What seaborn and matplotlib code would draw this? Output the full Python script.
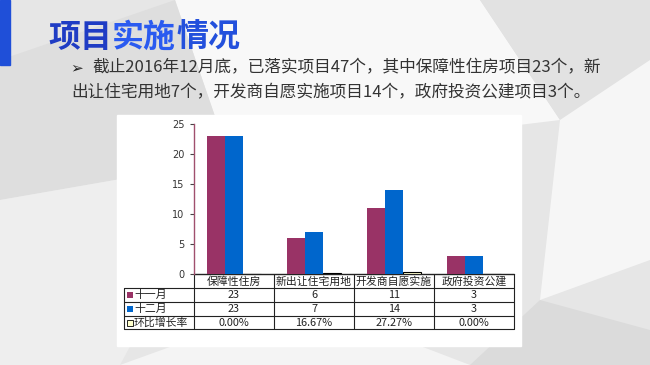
import pandas as pd
import matplotlib.pyplot as plt
import matplotlib.transforms as mtransforms
from matplotlib.patches import Polygon, Rectangle
import seaborn as sns

sns.set_style(style='white')
plt.rcParams['font.family'] = ['Noto Sans CJK SC', 'DejaVu Sans']

# chart data
categories = ['保障性住房', '新出让住宅用地', '开发商自愿实施', '政府投资公建']
series = ['十一月', '十二月', '环比增长率']
nov = [23, 6, 11, 3]
dec = [23, 7, 14, 3]
growth = [0.0, 0.1667, 0.2727, 0.0]
yticks = [0, 5, 10, 15, 20, 25]

colors = ['#993366', '#0066CC', '#FFFFCC']

title_parts = [('项目', '#1f3cc4'), ('实施', '#2a5af0'), ('情况', '#2350dc')]
line1 = '截止2016年12月底，已落实项目47个，其中保障性住房项目23个，新'
line2 = '出让住宅用地7个，开发商自愿实施项目14个，政府投资公建项目3个。'

df = pd.DataFrame({
    'category': categories * 3,
    'series': [s for s in series for _ in categories],
    'value': nov + dec + growth,
})

W, H = 650, 365
fig = plt.figure(figsize=(6.5, 3.65), dpi=100)

# slide background in pixel coordinates
bg = fig.add_axes([0, 0, 1, 1], zorder=0)
bg.set_xlim(0, W)
bg.set_ylim(H, 0)
bg.axis('off')
bg.add_patch(Rectangle((0, 0), W, H, color='#e6e6e6'))
shapes = [
    ([(175, 0), (480, 0), (560, 120), (230, 160)], '#f8f8f8'),
    ([(0, 60), (175, 0), (230, 160), (0, 200)], '#dedede'),
    ([(480, 0), (650, 0), (650, 90), (560, 120)], '#e2e2e2'),
    ([(560, 120), (650, 60), (650, 260), (540, 300)], '#f6f6f6'),
    ([(0, 200), (230, 160), (120, 365), (0, 365)], '#eeeeee'),
    ([(120, 365), (300, 300), (470, 365)], '#f4f4f4'),
    ([(470, 365), (540, 300), (650, 330), (650, 365)], '#dbdbdb'),
]
for pts, c in shapes:
    bg.add_patch(Polygon(pts, closed=True, color=c, lw=0))
bg.add_patch(Rectangle((0, 0), 10, 65, color='#1f4fd8'))
bg.add_patch(Rectangle((117, 115), 404, 231, color='white'))

# title and bullet text
x = 48
for part, c in title_parts:
    t = bg.text(x, 38, part, fontsize=23, fontweight='heavy', color=c,
                va='center', ha='left')
    fig.canvas.draw()
    bb = t.get_window_extent()
    x += bb.width
bg.text(70, 68, '➢', fontsize=11, color='#222222', va='center',
        fontweight='bold', family=['DejaVu Sans'])
bg.text(92, 68, line1, fontsize=12, color='#333333', va='center')
bg.text(71, 93, line2, fontsize=12, color='#333333', va='center')

# bar chart
ax = fig.add_axes([194 / W, 1 - 274 / H, 320 / W, 150 / H], zorder=1)
ax.set_facecolor('none')
sns.barplot(data=df, x='category', y='value', hue='series', order=categories,
            hue_order=series, palette=colors, width=0.675, saturation=1,
            edgecolor='none', legend=False, ax=ax)
for bar in ax.containers[2]:
    bar.set_edgecolor('black')
    bar.set_linewidth(0.8)
ax.set_xlim(-0.5, 3.5)
ax.set_ylim(0, 25)
ax.set_yticks(yticks)
ax.set_yticklabels([str(v) for v in yticks], fontsize=7, color='#333333',
                   family=['DejaVu Sans'])
ax.set_xticks([])
ax.set_xlabel('')
ax.set_ylabel('')
ax.tick_params(axis='y', direction='out', length=3, width=0.8,
               color='#444444', pad=4, left=True)
for side in ['top', 'right']:
    ax.spines[side].set_visible(False)
ax.spines['left'].set_color('#a0506e')
ax.spines['left'].set_linewidth(1)
ax.spines['bottom'].set_visible(False)

# data table below the axis
tr = mtransforms.blended_transform_factory(ax.transData, bg.transData)
rows_y = [274, 288, 302, 316, 329]
x0, x1 = -0.5, len(categories) - 0.5
lc = '#222222'
bg.plot([x0, x1], [rows_y[0]] * 2, color=lc, lw=1, transform=tr)
for y in rows_y[1:]:
    bg.plot([124, 194], [y, y], color=lc, lw=0.8)
    bg.plot([x0, x1], [y, y], color=lc, lw=0.8, transform=tr)
bg.plot([124, 124], [rows_y[1], rows_y[-1]], color=lc, lw=0.8)
for i in range(len(categories) + 1):
    bg.plot([i - 0.5, i - 0.5], [rows_y[0], rows_y[-1]], color=lc, lw=0.8,
            transform=tr)

tfont = dict(fontsize=7.8, color='#222222', va='center')
for i, cat in enumerate(categories):
    bg.text(i, 281.5, cat, ha='center', transform=tr, **tfont)

row_vals = [
    [str(v) for v in nov],
    [str(v) for v in dec],
    [f'{v * 100:.2f}%' for v in growth],
]
for r, name in enumerate(series):
    yc = (rows_y[r + 1] + rows_y[r + 2]) / 2
    ec = 'black' if r == 2 else 'none'
    bg.add_patch(Rectangle((127, yc - 3), 6, 6, facecolor=colors[r],
                           edgecolor=ec, lw=0.6))
    bg.text(134, yc, name, ha='left', **tfont)
    for i, v in enumerate(row_vals[r]):
        bg.text(i, yc, v, ha='center', transform=tr, **tfont)

fig.savefig('out.png', dpi=100)
